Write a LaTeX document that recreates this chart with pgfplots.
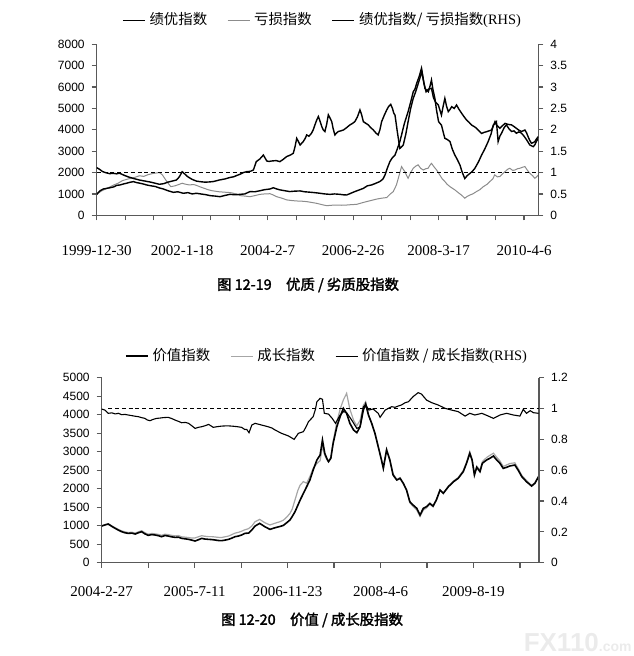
\documentclass[border=0pt]{standalone}
\usepackage{fontspec}
\setmainfont{Liberation Sans}
\newfontfamily\cjk{Noto Sans CJK SC}
\newfontfamily\cjkb{Noto Sans CJK SC}[FakeBold=2]
\newfontfamily\dates{Liberation Serif}
\usepackage{pgfplots}
\pgfplotsset{compat=1.18}
\pgfplotsset{
  base/.style={scale only axis, xmin=0, ymin=0,
    axis line style={-, black!65, line width=0.6pt},
    tick style={black!65, line width=0.6pt},
    major tick length=2.5pt, tick align=outside,
    ticklabel style={font=\fontsize{6}{7}\selectfont},
    /pgf/number format/assume math mode=true,
    /pgf/number format/1000 sep={}},
  lg/.style={legend columns=3,
    legend style={draw=none, fill=none, anchor=south,
      font=\fontsize{7.2}{8}\selectfont\cjk,
      /tikz/every even column/.append style={column sep=8pt}},
    legend image code/.code={\draw[##1] (0pt,0pt) -- (11pt,0pt);}}
}
\begin{document}
\begin{tikzpicture}
\path[use as bounding box] (0,0) rectangle (316.5pt,-328pt);
% ---------------- chart 1 ----------------
\begin{axis}[base, at={(48.35pt,-107.65pt)}, anchor=south west,
  width=220.8pt, height=85.5pt, xmax=15.5, ymax=8000,
  axis x line*=bottom, axis y line*=left,
  ytick={0,1000,...,8000},
  xtick={0,...,15},
  xticklabels={1999-12-30,,,2002-1-18,,,2004-2-7,,,2006-2-26,,,2008-3-17,,,2010-4-6},
  xticklabel style={font=\dates\fontsize{7.5}{8}\selectfont, yshift=-9pt}]
\addplot[black!45, line width=0.5pt] coordinates {
(0,980) (0.12,1100) (0.23,1180) (0.35,1250) (0.47,1330) (0.6,1420) (0.75,1500) (0.9,1620) (1.05,1680) (1.2,1730) (1.35,1780) (1.5,1850) (1.65,1820) (1.8,1900) (1.95,1950) (2.1,1980) (2.2,2000) (2.3,1900) (2.45,1600) (2.6,1340) (2.75,1380) (2.9,1450) (3.0,1500) (3.1,1460) (3.25,1420) (3.4,1440) (3.5,1400) (3.65,1320) (3.8,1250) (3.9,1200) (4.05,1150) (4.2,1120) (4.3,1100) (4.5,1080) (4.7,1060) (4.9,1000) (5.03,920) (5.2,900) (5.38,870) (5.55,920) (5.73,980) (5.9,1000) (6.08,1010) (6.2,950) (6.32,870) (6.5,800) (6.67,720) (6.85,690) (7.02,670) (7.2,660) (7.37,640) (7.55,600) (7.72,560) (7.9,500) (8.07,450) (8.25,470) (8.42,480) (8.6,470) (8.77,480) (8.95,500) (9.12,510) (9.3,580) (9.47,640) (9.65,700) (9.83,760) (10.0,800) (10.18,830) (10.29,980) (10.41,1110) (10.52,1420) (10.6,1800) (10.7,2280) (10.76,2150) (10.82,2040) (10.88,1850) (10.93,1730) (11.02,2000) (11.11,2200) (11.2,2300) (11.28,2360) (11.37,2200) (11.46,2120) (11.55,2180) (11.63,2200) (11.7,2350) (11.75,2430) (11.85,2250) (11.93,2120) (12.04,1890) (12.13,1700) (12.22,1580) (12.3,1450) (12.4,1340) (12.5,1250) (12.57,1190) (12.7,1050) (12.8,950) (12.92,800) (13.0,880) (13.1,950) (13.2,1000) (13.33,1110) (13.45,1200) (13.57,1340) (13.7,1450) (13.8,1580) (13.9,1700) (13.97,1890) (14.06,1800) (14.15,1810) (14.25,1950) (14.33,2040) (14.42,2150) (14.5,2200) (14.6,2100) (14.68,2120) (14.77,2180) (14.85,2200) (14.95,2250) (15.03,2280) (15.12,2100) (15.2,1970) (15.3,1850) (15.38,1730) (15.44,1800) (15.5,1890)};
\addplot[black, line width=0.7pt] coordinates {
(0,980) (0.12,1150) (0.23,1230) (0.35,1260) (0.47,1290) (0.6,1330) (0.7,1400) (0.82,1420) (0.95,1470) (1.05,1500) (1.15,1540) (1.29,1575) (1.4,1530) (1.52,1500) (1.65,1460) (1.75,1420) (1.9,1380) (2.05,1350) (2.2,1280) (2.34,1230) (2.5,1150) (2.69,1075) (2.85,1100) (3.04,1030) (3.2,1060) (3.35,1000) (3.5,1030) (3.7,990) (3.85,960) (3.98,920) (4.15,900) (4.33,870) (4.5,930) (4.68,980) (4.85,960) (5.03,980) (5.2,1000) (5.38,1110) (5.55,1100) (5.73,1150) (5.9,1200) (6.08,1230) (6.2,1290) (6.3,1240) (6.43,1190) (6.6,1150) (6.78,1110) (6.95,1130) (7.14,1140) (7.3,1100) (7.49,1080) (7.65,1060) (7.84,1030) (8.0,1000) (8.19,980) (8.35,1000) (8.54,980) (8.65,960) (8.77,950) (8.9,1020) (9.06,1110) (9.2,1180) (9.36,1260) (9.5,1380) (9.65,1420) (9.8,1500) (9.94,1580) (10.05,1700) (10.12,1890) (10.2,2200) (10.29,2510) (10.38,2700) (10.47,2820) (10.55,3100) (10.64,3450) (10.7,3760) (10.8,4300) (10.93,4850) (11.02,5300) (11.11,5780) (11.17,5900) (11.23,6170) (11.32,6500) (11.4,6880) (11.46,6400) (11.52,5940) (11.58,5850) (11.64,5780) (11.7,6050) (11.75,6330) (11.8,5900) (11.87,5470) (11.93,4900) (12.0,4380) (12.1,4220) (12.16,3900) (12.22,3600) (12.3,3550) (12.4,3450) (12.48,3100) (12.57,2820) (12.66,2600) (12.75,2350) (12.82,2050) (12.87,1880) (12.92,1720) (13.0,1850) (13.1,1960) (13.18,2050) (13.27,2190) (13.4,2500) (13.51,2820) (13.62,3100) (13.74,3450) (13.84,3800) (13.92,4220) (14.03,4380) (14.09,3450) (14.15,3700) (14.21,3840) (14.3,4100) (14.38,4230) (14.47,4050) (14.56,3920) (14.65,3950) (14.73,3840) (14.82,3900) (14.91,3840) (15.0,3700) (15.09,3530) (15.15,3400) (15.2,3290) (15.26,3250) (15.32,3210) (15.38,3300) (15.43,3450) (15.5,3600)};
\end{axis}
\begin{axis}[base, lg, at={(48.35pt,-107.65pt)}, anchor=south west,
  width=220.8pt, height=85.5pt, xmax=15.5, ymax=4,
  axis x line=none, axis y line*=right,
  ytick={0,0.5,...,4},
  legend style={at={(0.5,1)}, yshift=4pt, xshift=3pt}]
\addlegendimage{black, line width=0.7pt}
\addlegendentry{绩优指数}
\addlegendimage{black!45, line width=0.5pt}
\addlegendentry{亏损指数}
\addplot[black, line width=0.7pt] coordinates {
(0,1.115) (0.1,1.075) (0.2,1.025) (0.3,1.0) (0.45,0.975) (0.6,0.98) (0.7,0.97) (0.8,0.985) (0.95,0.94) (1.1,0.9) (1.3,0.86) (1.5,0.825) (1.7,0.8) (1.9,0.775) (2.05,0.75) (2.2,0.725) (2.35,0.74) (2.5,0.775) (2.65,0.8) (2.8,0.825) (2.9,0.9) (3.0,1.02) (3.1,0.96) (3.2,0.9) (3.35,0.84) (3.5,0.8) (3.65,0.785) (3.8,0.775) (3.95,0.78) (4.1,0.79) (4.3,0.825) (4.5,0.85) (4.65,0.88) (4.8,0.9) (4.95,0.94) (5.03,0.96) (5.15,1.0) (5.26,1.02) (5.4,1.03) (5.5,1.06) (5.6,1.255) (5.73,1.32) (5.85,1.41) (5.97,1.27) (6.05,1.26) (6.14,1.27) (6.3,1.28) (6.43,1.255) (6.55,1.31) (6.67,1.375) (6.8,1.41) (6.9,1.45) (6.96,1.6) (7.02,1.8) (7.08,1.725) (7.14,1.645) (7.25,1.725) (7.32,1.8) (7.37,1.88) (7.45,1.85) (7.54,1.92) (7.6,2.0) (7.66,2.115) (7.72,2.225) (7.78,2.31) (7.84,2.2) (7.9,2.075) (7.95,2.0) (8.01,1.96) (8.07,2.125) (8.13,2.35) (8.19,2.275) (8.25,2.19) (8.3,2.025) (8.36,1.88) (8.42,1.925) (8.48,1.96) (8.57,1.975) (8.66,1.995) (8.77,2.05) (8.89,2.115) (8.98,2.15) (9.06,2.19) (9.15,2.3) (9.24,2.465) (9.3,2.35) (9.36,2.19) (9.45,2.15) (9.53,2.115) (9.62,2.05) (9.71,1.995) (9.8,1.925) (9.88,1.88) (9.94,2.0) (10.0,2.19) (10.1,2.35) (10.18,2.465) (10.25,2.55) (10.32,2.595) (10.38,2.5) (10.43,2.385) (10.47,2.345) (10.55,1.96) (10.64,1.565) (10.7,1.6) (10.76,1.645) (10.85,1.9) (10.93,2.19) (11.02,2.5) (11.11,2.735) (11.2,2.9) (11.27,3.05) (11.34,3.2) (11.41,3.36) (11.48,3.1) (11.56,2.89) (11.64,2.95) (11.75,2.97) (11.82,2.75) (11.89,2.65) (11.99,2.58) (12.1,2.345) (12.16,2.55) (12.22,2.735) (12.28,2.55) (12.34,2.425) (12.4,2.475) (12.46,2.54) (12.55,2.5) (12.63,2.58) (12.72,2.475) (12.81,2.385) (12.9,2.3) (12.98,2.23) (13.07,2.175) (13.16,2.11) (13.25,2.075) (13.33,2.035) (13.42,1.975) (13.51,1.915) (13.6,1.94) (13.68,1.955) (13.77,1.975) (13.86,1.995) (13.98,2.19) (14.03,2.115) (14.15,2.035) (14.25,2.1) (14.33,2.15) (14.45,2.125) (14.56,2.115) (14.65,2.075) (14.73,2.035) (14.82,1.99) (14.91,1.96) (15.03,1.995) (15.09,1.925) (15.14,1.84) (15.2,1.75) (15.26,1.685) (15.32,1.7) (15.38,1.725) (15.44,1.79) (15.5,1.84)};
\addlegendentry{绩优指数/ 亏损指数{\dates (RHS)}}
\addplot[black, line width=0.8pt, dash pattern=on 2pt off 1.4pt, forget plot] coordinates {(0,1) (15.5,1)};
\end{axis}
\node[font=\fontsize{7.2}{8}\selectfont\cjkb] at (154pt,-142.5pt) {图 12-19\quad 优质 / 劣质股指数};
% ---------------- chart 2 ----------------
\begin{axis}[base, at={(50.85pt,-281.35pt)}, anchor=south west,
  width=218.65pt, height=92.5pt, xmax=9.41, ymax=5000,
  axis x line*=bottom, axis y line*=left,
  ytick={0,500,...,5000},
  xtick={0,...,9},
  xticklabels={2004-2-27,,2005-7-11,,2006-11-23,,2008-4-6,,2009-8-19,},
  xticklabel style={font=\dates\fontsize{7.5}{8}\selectfont, yshift=-6pt}]
\addplot[black!35, line width=0.6pt] coordinates {
(0,1000) (0.07,1030) (0.14,1055) (0.22,995) (0.29,945) (0.36,900) (0.43,860) (0.5,835) (0.57,815) (0.65,825) (0.72,800) (0.79,835) (0.86,865) (0.93,810) (1.0,770) (1.08,790) (1.15,780) (1.22,765) (1.29,740) (1.36,770) (1.43,760) (1.5,740) (1.58,725) (1.65,735) (1.72,700) (1.8,690) (1.87,680) (1.94,665) (2.01,670) (2.08,700) (2.15,730) (2.22,715) (2.3,705) (2.37,705) (2.44,695) (2.51,685) (2.58,680) (2.65,700) (2.73,720) (2.8,760) (2.87,800) (2.94,820) (3.01,850) (3.08,890) (3.16,920) (3.23,990) (3.3,1108) (3.4,1170) (3.51,1080) (3.62,1020) (3.69,1050) (3.76,1080) (3.84,1110) (3.91,1150) (3.98,1230) (4.05,1330) (4.1,1450) (4.16,1700) (4.22,1950) (4.27,2099) (4.34,2190) (4.41,2150) (4.48,2330) (4.55,2550) (4.63,2680) (4.7,2760) (4.75,3150) (4.8,2900) (4.85,2780) (4.88,2740) (4.93,2850) (4.98,3280) (5.06,3800) (5.13,4150) (5.2,4400) (5.27,4577) (5.34,4150) (5.42,3850) (5.49,3700) (5.56,3850) (5.63,4250) (5.68,4350) (5.74,4000) (5.81,3760) (5.88,3480) (5.95,3150) (6.02,2800) (6.06,2580) (6.13,3080) (6.2,2800) (6.27,2400) (6.35,2250) (6.42,2300) (6.49,2150) (6.56,1950) (6.63,1620) (6.7,1520) (6.78,1420) (6.85,1250) (6.92,1420) (6.99,1480) (7.06,1580) (7.13,1510) (7.2,1680) (7.28,1960) (7.35,1880) (7.46,2070) (7.57,2210) (7.67,2300) (7.78,2490) (7.85,2720) (7.92,3000) (7.97,2810) (8.02,2400) (8.07,2610) (8.14,2500) (8.19,2730) (8.28,2840) (8.35,2900) (8.43,2960) (8.5,2850) (8.57,2750) (8.64,2600) (8.71,2640) (8.78,2680) (8.89,2700) (8.96,2550) (9.04,2360) (9.14,2220) (9.25,2090) (9.32,2160) (9.4,2340)};
\addplot[black, line width=0.8pt] coordinates {
(0,991) (0.07,1020) (0.14,1045) (0.22,980) (0.29,928) (0.36,880) (0.43,838) (0.5,810) (0.57,793) (0.65,800) (0.72,775) (0.79,810) (0.86,838) (0.93,780) (1.0,739) (1.08,760) (1.15,748) (1.22,730) (1.29,703) (1.36,735) (1.43,721) (1.5,700) (1.58,685) (1.65,690) (1.72,658) (1.8,645) (1.87,631) (1.94,610) (2.01,586) (2.08,620) (2.15,658) (2.22,640) (2.3,631) (2.37,625) (2.44,613) (2.51,600) (2.58,595) (2.65,610) (2.73,631) (2.8,665) (2.87,703) (2.94,720) (3.01,748) (3.08,793) (3.16,800) (3.23,883) (3.3,991) (3.4,1063) (3.51,973) (3.62,901) (3.69,930) (3.76,955) (3.84,980) (3.91,1009) (3.98,1080) (4.05,1153) (4.1,1250) (4.16,1379) (4.22,1550) (4.27,1694) (4.34,1874) (4.41,2054) (4.48,2234) (4.55,2505) (4.63,2775) (4.7,2910) (4.75,3316) (4.8,2955) (4.85,2800) (4.88,2730) (4.93,2820) (4.98,3226) (5.06,3676) (5.13,3946) (5.2,4172) (5.27,4036) (5.34,3766) (5.42,3586) (5.49,3514) (5.56,3676) (5.63,4127) (5.68,4289) (5.74,3991) (5.81,3766) (5.88,3496) (5.95,3135) (6.02,2775) (6.06,2550) (6.13,3045) (6.2,2775) (6.27,2370) (6.35,2234) (6.42,2280) (6.49,2144) (6.56,1964) (6.63,1649) (6.7,1559) (6.78,1469) (6.85,1288) (6.92,1469) (6.99,1514) (7.06,1604) (7.13,1532) (7.2,1694) (7.28,1964) (7.35,1874) (7.46,2054) (7.57,2189) (7.67,2280) (7.78,2460) (7.85,2685) (7.92,2955) (7.97,2775) (8.02,2370) (8.07,2577) (8.14,2460) (8.19,2685) (8.28,2775) (8.35,2820) (8.43,2883) (8.5,2775) (8.57,2685) (8.64,2550) (8.71,2577) (8.78,2613) (8.89,2640) (8.96,2505) (9.04,2325) (9.14,2190) (9.25,2072) (9.32,2144) (9.4,2325)};
\end{axis}
\begin{axis}[base, lg, at={(50.85pt,-281.35pt)}, anchor=south west,
  width=218.65pt, height=92.5pt, xmax=9.41, ymax=1.2,
  axis x line=none, axis y line*=right,
  ytick={0,0.2,...,1.2},
  legend style={at={(0.5,1)}, yshift=2.8pt, xshift=3.8pt}]
\addlegendimage{black, line width=0.8pt}
\addlegendentry{价值指数}
\addlegendimage{black!35, line width=0.6pt}
\addlegendentry{成长指数}
\addplot[black, line width=0.55pt] coordinates {
(0,0.997) (0.07,0.990) (0.14,0.969) (0.22,0.972) (0.29,0.965) (0.36,0.969) (0.43,0.960) (0.5,0.962) (0.57,0.958) (0.65,0.954) (0.72,0.950) (0.79,0.947) (0.86,0.941) (0.93,0.936) (0.98,0.926) (1.04,0.921) (1.1,0.929) (1.18,0.936) (1.25,0.938) (1.32,0.941) (1.43,0.943) (1.5,0.936) (1.58,0.925) (1.65,0.917) (1.72,0.908) (1.8,0.910) (1.87,0.904) (1.94,0.888) (2.01,0.871) (2.08,0.878) (2.15,0.882) (2.22,0.888) (2.3,0.897) (2.35,0.888) (2.4,0.878) (2.5,0.883) (2.58,0.886) (2.7,0.888) (2.8,0.886) (2.9,0.883) (3.01,0.878) (3.08,0.864) (3.12,0.865) (3.17,0.843) (3.23,0.893) (3.3,0.904) (3.44,0.893) (3.58,0.882) (3.66,0.874) (3.73,0.861) (3.8,0.850) (3.87,0.839) (3.95,0.830) (4.02,0.822) (4.08,0.811) (4.14,0.800) (4.19,0.821) (4.23,0.839) (4.34,0.850) (4.4,0.883) (4.45,0.915) (4.55,0.947) (4.6,0.996) (4.63,1.044) (4.7,1.066) (4.75,1.060) (4.79,0.969) (4.88,0.964) (4.96,0.936) (5.03,0.904) (5.13,0.958) (5.2,0.980) (5.27,0.973) (5.38,0.925) (5.49,0.871) (5.56,0.882) (5.63,1.012) (5.68,1.023) (5.75,0.990) (5.84,0.997) (5.95,0.969) (5.99,0.943) (6.1,0.990) (6.24,1.012) (6.31,1.008) (6.38,1.016) (6.45,1.023) (6.53,1.038) (6.6,1.044) (6.7,1.077) (6.81,1.103) (6.88,1.094) (6.99,1.055) (7.1,1.038) (7.24,1.023) (7.39,1.001) (7.53,0.990) (7.67,0.980) (7.82,0.951) (7.92,0.969) (8.03,0.958) (8.18,0.969) (8.32,0.951) (8.43,0.936) (8.57,0.958) (8.71,0.969) (8.86,0.958) (9.0,0.951) (9.07,0.995) (9.14,0.969) (9.22,0.986) (9.29,0.973) (9.4,0.969)};
\addlegendentry{价值指数 / 成长指数{\dates (RHS)}}
\addplot[black, line width=0.8pt, dash pattern=on 2pt off 1.4pt, forget plot] coordinates {(0.14,1) (9.41,1)};
\end{axis}
\node[font=\fontsize{7.2}{8}\selectfont\cjkb] at (156pt,-310pt) {图 12-20\quad 价值 / 成长股指数};
\node[font=\bfseries\fontsize{13}{14}\selectfont, text=black!8, anchor=south east, inner sep=0pt] at (316pt,-326pt) {FX110{\fontsize{7}{8}\selectfont.com}};
\end{tikzpicture}
\end{document}
